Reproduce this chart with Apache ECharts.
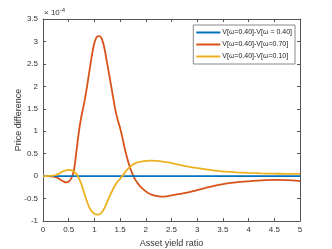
<!DOCTYPE html>
<html><head><meta charset="utf-8">
<script src="https://cdn.jsdelivr.net/npm/echarts@6/dist/echarts.min.js"></script>
<style>html,body{margin:0;padding:0;background:#fff}#c{width:332px;height:249px}</style>
</head><body><div id="c"></div>
<script>
var xs = [0,0.05,0.1,0.15,0.2,0.25,0.3,0.35,0.4,0.45,0.5,0.55,0.6,0.65,0.7,0.75,0.8,0.85,0.9,0.95,1.0,1.05,1.1,1.15,1.2,1.25,1.3,1.35,1.4,1.45,1.5,1.55,1.6,1.65,1.7,1.75,1.8,1.85,1.9,2.0,2.1,2.2,2.3,2.4,2.5,2.75,3.0,3.25,3.5,3.75,4.0,4.25,4.5,4.75,5.0];
var yBlue = [0,0,0,0,0,0,0,0,0,0,0,0,0,0,0,0,0,0,0,0,0,0,0,0,0,0,0,0,0,0,0,0,0,0,0,0,0,0,0,0,0,0,0,0,0,0,0,0,0,0,0,0,0,0,0];
var yOrange = [0,0,0,-0.003,-0.01,-0.025,-0.05,-0.085,-0.12,-0.14,-0.12,-0.05,0.12,0.55,1.0,1.35,1.62,1.95,2.32,2.68,2.97,3.11,3.12,3.04,2.82,2.5,2.18,1.85,1.52,1.27,1.07,0.83,0.57,0.35,0.17,0.02,-0.09,-0.17,-0.24,-0.34,-0.41,-0.44,-0.455,-0.45,-0.43,-0.38,-0.31,-0.24,-0.18,-0.14,-0.115,-0.095,-0.085,-0.09,-0.11];
var yYellow = [0,0,0.003,0.006,0.012,0.025,0.05,0.08,0.11,0.13,0.14,0.135,0.1,0.05,-0.05,-0.19,-0.37,-0.55,-0.69,-0.79,-0.84,-0.86,-0.85,-0.8,-0.7,-0.57,-0.44,-0.32,-0.21,-0.12,-0.06,0.01,0.09,0.16,0.21,0.26,0.29,0.31,0.32,0.34,0.345,0.34,0.33,0.31,0.29,0.23,0.18,0.14,0.105,0.085,0.07,0.06,0.055,0.05,0.05];
var names = ['V[\u03c9=0.40]-V[\u03c9 = 0.40]','V[\u03c9=0.40]-V[\u03c9=0.70]','V[\u03c9=0.40]-V[\u03c9=0.10]'];
var colors = ['#0072BD','#D95319','#EDB120'];
var xName = 'Asset yield ratio';
var yName = 'Price difference';

function pairs(ys){ return xs.map(function(x,i){ return [x, ys[i]]; }); }
var axCol = '#555';
var font = 'Liberation Sans, Arial, sans-serif';
var chart = echarts.init(document.getElementById('c'), null, {renderer:'canvas'});
function mkSeries(name, ys, c, z){
  return {name:name, type:'line', data:pairs(ys), symbol:'none', smooth:0.3,
    lineStyle:{color:c, width:1.8}, itemStyle:{color:c}, z:z, xAxisIndex:0, yAxisIndex:0};
}
chart.setOption({
  animation:false,
  backgroundColor:'#fff',
  grid:{left:43, right:32, top:19, bottom:28, containLabel:false, outerBoundsMode:'none'},
  legend:{
    orient:'vertical', right:37, top:25, icon:'rect', itemWidth:24, itemHeight:2, itemGap:5,
    backgroundColor:'#fff', borderColor:'#888', borderWidth:1, padding:[4,3,4,3],
    textStyle:{fontSize:7, fontFamily:font, color:'#222', padding:[0,0,0,-3]},
    data:names
  },
  graphic:[{type:'text', left:44, top:7, style:{text:'\u00d7 10{s|-4}', rich:{s:{fontSize:6, verticalAlign:'top', padding:[0,0,5,0], fontFamily:font, fill:'#333'}}, fontSize:8, fontFamily:font, fill:'#333'}}],
  xAxis:[{
    type:'value', min:0, max:5, interval:0.5, position:'bottom',
    name:xName, nameLocation:'middle', nameGap:17, nameTextStyle:{fontSize:9, fontFamily:font, color:'#333'},
    axisLine:{show:true, onZero:false, lineStyle:{color:axCol}},
    axisTick:{show:true, inside:true, length:3, lineStyle:{color:axCol}},
    axisLabel:{fontSize:8, fontFamily:font, color:'#333', margin:5},
    splitLine:{show:false}
  },{
    type:'value', min:0, max:5, interval:0.5, position:'top',
    axisLine:{show:true, onZero:false, lineStyle:{color:axCol}},
    axisTick:{show:true, inside:true, length:3, lineStyle:{color:axCol}},
    axisLabel:{show:false}, splitLine:{show:false}
  }],
  yAxis:[{
    type:'value', min:-1, max:3.5, interval:0.5, position:'left',
    name:yName, nameLocation:'middle', nameGap:20, nameMoveOverlap:false, nameTextStyle:{fontSize:9, fontFamily:font, color:'#333'},
    axisLine:{show:true, onZero:false, lineStyle:{color:axCol}},
    axisTick:{show:true, inside:true, length:3, lineStyle:{color:axCol}},
    axisLabel:{fontSize:8, fontFamily:font, color:'#333', margin:5},
    splitLine:{show:false}
  },{
    type:'value', min:-1, max:3.5, interval:0.5, position:'right',
    axisLine:{show:true, onZero:false, lineStyle:{color:axCol}},
    axisTick:{show:true, inside:true, length:3, lineStyle:{color:axCol}},
    axisLabel:{show:false}, splitLine:{show:false}
  }],
  series:[
    mkSeries(names[0], yBlue, colors[0], 3),
    mkSeries(names[1], yOrange, colors[1], 2),
    mkSeries(names[2], yYellow, colors[2], 4)
  ]
});
</script></body></html>
